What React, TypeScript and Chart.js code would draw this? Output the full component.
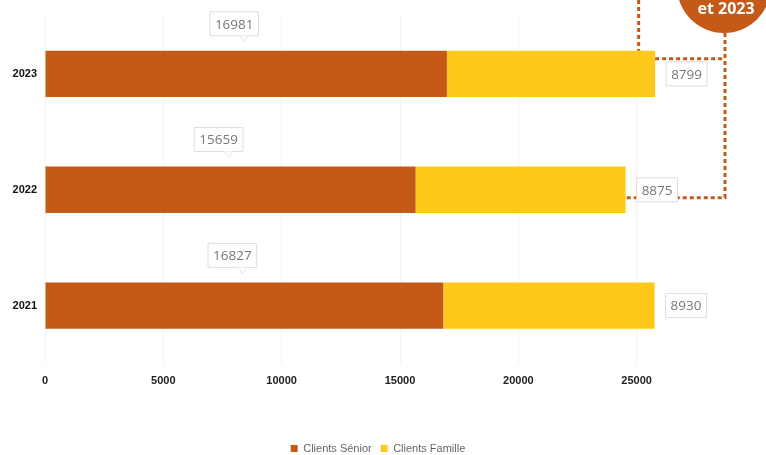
import React, { useEffect, useRef } from "react";
import { Chart, registerables } from "chart.js";

Chart.register(...registerables);

const years = ["2023", "2022", "2021"];
const senior = [16981, 15659, 16827];
const famille = [8799, 8875, 8930];
const xTicks = [0, 5000, 10000, 15000, 20000, 25000];

const ORANGE = "#C55A18";
const YELLOW = "#FFC91B";

function boxPath(ctx: CanvasRenderingContext2D, x: number, y: number, w: number, h: number) {
  ctx.beginPath();
  ctx.rect(x, y, w, h);
}

function drawDeco(chart: any) {
  const ctx: CanvasRenderingContext2D = chart.ctx;
  const m1 = chart.getDatasetMeta(1);
  const b23 = m1.data[0];
  const b22 = m1.data[1];
  const xs = chart.scales.x;
  const rightX = 725;
  ctx.save();
  ctx.strokeStyle = ORANGE;
  ctx.lineWidth = 3;
  ctx.setLineDash([4, 3]);
  const gx = xs.getPixelForValue(25000) + 2;
  ctx.beginPath();
  ctx.moveTo(gx, 0);
  ctx.lineTo(gx, b23.y - b23.height / 2);
  ctx.stroke();
  const y1 = b23.y - b23.height / 2 + 8;
  const y2 = b22.y + 8;
  ctx.beginPath();
  ctx.moveTo(b23.x, y1);
  ctx.lineTo(rightX, y1);
  ctx.stroke();
  ctx.beginPath();
  ctx.moveTo(rightX, 33);
  ctx.lineTo(rightX, y2);
  ctx.lineTo(b22.x, y2);
  ctx.stroke();
  ctx.setLineDash([]);
  ctx.fillStyle = ORANGE;
  ctx.beginPath();
  ctx.arc(724, -14, 47, 0, Math.PI * 2);
  ctx.fill();
  ctx.fillStyle = "#ffffff";
  ctx.font = "bold 16px 'Open Sans', sans-serif";
  ctx.textAlign = "center";
  ctx.textBaseline = "middle";
  ctx.fillText("et 2023", 726, 9);
  ctx.restore();
}

const labelsPlugin = {
  id: "boxLabels",
  afterDatasetsDraw(chart: any) {
    drawDeco(chart);
    const ctx: CanvasRenderingContext2D = chart.ctx;
    ctx.save();
    ctx.font = "13.5px 'Open Sans', sans-serif";
    ctx.textAlign = "center";
    ctx.textBaseline = "middle";
    const m0 = chart.getDatasetMeta(0);
    const m1 = chart.getDatasetMeta(1);
    m0.data.forEach((bar: any, i: number) => {
      const txt = String(senior[i]);
      const w = ctx.measureText(txt).width + 10;
      const h = 24;
      const cx = (bar.base + bar.x) / 2 - 12;
      const top = bar.y - bar.height / 2;
      const by = top - 15 - h;
      ctx.fillStyle = "#ffffff";
      ctx.strokeStyle = "#dedede";
      ctx.lineWidth = 1;
      boxPath(ctx, cx - w / 2, by, w, h);
      ctx.fill();
      ctx.stroke();
      ctx.beginPath();
      ctx.moveTo(cx + 6, by + h);
      ctx.lineTo(cx + 10, by + h + 6);
      ctx.lineTo(cx + 14, by + h);
      ctx.fillStyle = "#ffffff";
      ctx.fill();
      ctx.strokeStyle = "#e4e4e4";
      ctx.stroke();
      ctx.fillStyle = "#777777";
      ctx.fillText(txt, cx, by + h / 2 + 1);
    });
    m1.data.forEach((bar: any, i: number) => {
      const txt = String(famille[i]);
      const w = ctx.measureText(txt).width + 10;
      const h = 24;
      const x0 = bar.x + 11;
      const by = bar.y - h / 2;
      ctx.fillStyle = "#ffffff";
      ctx.strokeStyle = "#dedede";
      ctx.lineWidth = 1;
      boxPath(ctx, x0, by, w, h);
      ctx.fill();
      ctx.stroke();
      ctx.fillStyle = "#777777";
      ctx.fillText(txt, x0 + w / 2, by + h / 2 + 1);
    });
    ctx.restore();
  },
};

export default function App() {
  const ref = useRef<HTMLCanvasElement>(null);
  useEffect(() => {
    document.body.style.margin = "0";
    const chart = new Chart(ref.current!, {
      type: "bar",
      data: {
        labels: years,
        datasets: [
          {
            label: "Clients Sénior",
            data: senior,
            backgroundColor: ORANGE,
            barPercentage: 0.8,
            categoryPercentage: 0.5,
          },
          {
            label: "Clients Famille",
            data: famille,
            backgroundColor: YELLOW,
            barPercentage: 0.8,
            categoryPercentage: 0.5,
          },
        ],
      },
      options: {
        indexAxis: "y",
        animation: false,
        responsive: false,
        maintainAspectRatio: false,
        layout: { padding: { top: 16, left: 1, right: 11, bottom: -9 } },
        scales: {
          x: {
            stacked: true,
            min: 0,
            max: 30000,
            border: { display: false },
            grid: { color: "#f3f3f3", drawTicks: false },
            afterBuildTicks: (scale: any) => {
              scale.ticks = xTicks.map((v) => ({ value: v }));
            },
            afterFit: (scale: any) => {
              scale.height = 70.5;
            },
            ticks: {
              padding: 11,
              color: "#222",
              callback: (v: any) => String(v),
              font: { family: "'Liberation Sans', sans-serif", size: 11, weight: "bold" },
            },
          },
          y: {
            stacked: true,
            border: { display: false },
            grid: { display: false, drawTicks: false },
            afterFit: (scale: any) => {
              scale.width = 44;
            },
            ticks: {
              padding: 8,
              color: "#111",
              font: { family: "'Liberation Sans', sans-serif", size: 11, weight: "bold" },
            },
          },
        },
        plugins: {
          legend: {
            position: "bottom",
            labels: {
              boxWidth: 7,
              boxHeight: 7,
              padding: 9,
              color: "#666",
              font: { family: "'Liberation Sans', sans-serif", size: 11 },
            },
          },
          tooltip: { enabled: false },
        },
      },
      plugins: [labelsPlugin],
    } as any);
    return () => chart.destroy();
  }, []);
  return (
    <div style={{ position: "relative", width: 766, height: 455 }}>
      <canvas ref={ref} width={766} height={455} style={{ display: "block", width: 766, height: 455 }} />
    </div>
  );
}
